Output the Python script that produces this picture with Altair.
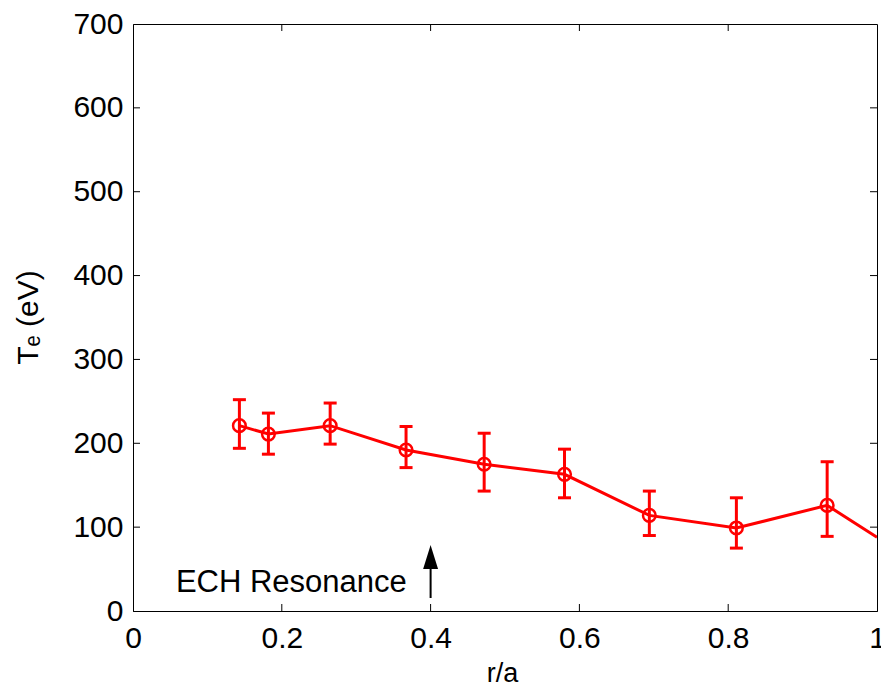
import altair as alt
import pandas as pd

# data
r_pts = [0.143, 0.182, 0.265, 0.367, 0.472, 0.580, 0.694, 0.811, 0.933]
te_pts = [221, 211, 221, 192, 175, 163, 114, 99, 126]
te_hi = [252, 236, 248, 220, 212, 193, 143, 135, 178]
te_lo = [194, 187, 199, 171, 143, 135, 90, 75, 89]
line_end_r = [1.0]
line_end_te = [88]

x_ticks = [0, 0.2, 0.4, 0.6, 0.8, 1.0]
y_ticks = [0, 100, 200, 300, 400, 500, 600, 700]

annot_text = ["ECH Resonance"]
annot_r = [0.368]
annot_te = [23]
arrow_r = [0.4]
arrow_base = [15.5]
arrow_headbase = [52]
arrow_headmid = [64.4]

RED = "#FF0000"
FONT = "Liberation Sans"
W, H = 744, 587

pts = pd.DataFrame({"r": r_pts, "te": te_pts, "hi": te_hi, "lo": te_lo})
line_df = pd.DataFrame({"r": r_pts + line_end_r, "te": te_pts + line_end_te})

xs = alt.Scale(domain=[0, 1], nice=False, zero=False)
ys = alt.Scale(domain=[0, 700], nice=False, zero=False)

xaxis = alt.Axis(values=x_ticks, ticks=False, grid=False, labelFontSize=30, labelFont=FONT,
                 labelColor="black", labelPadding=12, domainColor="black", domainWidth=1,
                 title="r/a", titleFont=FONT, titleFontSize=27, titleFontWeight="normal",
                 titleColor="black", titleX=369, titleY=70, titleBaseline="alphabetic",
                 labelExpr="datum.value == 0 ? '0' : datum.value == 1 ? '1' : format(datum.value, '.1f')",
                 labelFlush=False)
yaxis = alt.Axis(values=y_ticks, ticks=False, grid=False, labelFontSize=30, labelFont=FONT,
                 labelColor="black", labelPadding=10, domainColor="black", domainWidth=1,
                 title="Tₑ (eV)", titleFont=FONT, titleFontSize=30, titleFontWeight="normal",
                 titleColor="black", titleAngle=270, titleX=-96, titleY=293,
                 titleBaseline="alphabetic", titleAlign="center", labelFlush=False)

base_line = alt.Chart(line_df).mark_line(color=RED, strokeWidth=3, clip=True).encode(
    x=alt.X("r:Q", scale=xs, axis=xaxis),
    y=alt.Y("te:Q", scale=ys, axis=yaxis),
)

err = alt.Chart(pts).mark_rule(color=RED, strokeWidth=3).encode(
    x=alt.X("r:Q", scale=xs), y=alt.Y("lo:Q", scale=ys), y2="hi:Q")
cap_hi = alt.Chart(pts).mark_tick(color=RED, thickness=3, size=13, orient="horizontal",
                                  opacity=1).encode(
    x=alt.X("r:Q", scale=xs), y=alt.Y("hi:Q", scale=ys))
cap_lo = alt.Chart(pts).mark_tick(color=RED, thickness=3, size=13, orient="horizontal",
                                  opacity=1).encode(
    x=alt.X("r:Q", scale=xs), y=alt.Y("lo:Q", scale=ys))
circles = alt.Chart(pts).mark_point(shape="circle", filled=False, color=RED, strokeWidth=2.5,
                                     size=160, opacity=1).encode(
    x=alt.X("r:Q", scale=xs), y=alt.Y("te:Q", scale=ys))

# inside tick marks on all four sides
xt = pd.DataFrame({"t": x_ticks[1:-1]})
yt = pd.DataFrame({"t": y_ticks[1:-1]})
TL = 7
tick_b = alt.Chart(xt).mark_rule(color="black", strokeWidth=1).encode(
    x=alt.X("t:Q", scale=xs), y=alt.value(H), y2=alt.value(H - TL))
tick_t = alt.Chart(xt).mark_rule(color="black", strokeWidth=1).encode(
    x=alt.X("t:Q", scale=xs), y=alt.value(0), y2=alt.value(TL))
tick_l = alt.Chart(yt).mark_rule(color="black", strokeWidth=1).encode(
    y=alt.Y("t:Q", scale=ys), x=alt.value(0), x2=alt.value(TL))
tick_r = alt.Chart(yt).mark_rule(color="black", strokeWidth=1).encode(
    y=alt.Y("t:Q", scale=ys), x=alt.value(W), x2=alt.value(W - TL))

ann_df = pd.DataFrame({"r": annot_r, "te": annot_te, "label": annot_text})
ann = alt.Chart(ann_df).mark_text(align="right", baseline="alphabetic", font=FONT,
                                   fontSize=31, color="black").encode(
    x=alt.X("r:Q", scale=xs), y=alt.Y("te:Q", scale=ys), text="label:N")

arr_df = pd.DataFrame({"r": arrow_r, "b": arrow_base, "hb": arrow_headbase, "hm": arrow_headmid})
arr_stem = alt.Chart(arr_df).mark_rule(color="black", strokeWidth=2).encode(
    x=alt.X("r:Q", scale=xs), y=alt.Y("b:Q", scale=ys), y2="hb:Q")
arr_head = alt.Chart(arr_df).mark_point(shape="M0,-1L0.62,1L-0.62,1Z", filled=True,
                                        color="black", size=576, opacity=1).encode(
    x=alt.X("r:Q", scale=xs), y=alt.Y("hm:Q", scale=ys))

chart = alt.layer(base_line, err, cap_hi, cap_lo, circles,
                  tick_b, tick_t, tick_l, tick_r, ann, arr_stem, arr_head).properties(
    width=W, height=H,
    autosize=alt.AutoSizeParams(type="none"),
    padding={"left": 133, "top": 24, "right": 4, "bottom": 76},
    background="white",
).configure_view(stroke="black", strokeWidth=1)

chart.save("out.html", embed_options={"renderer": "svg", "actions": False})
